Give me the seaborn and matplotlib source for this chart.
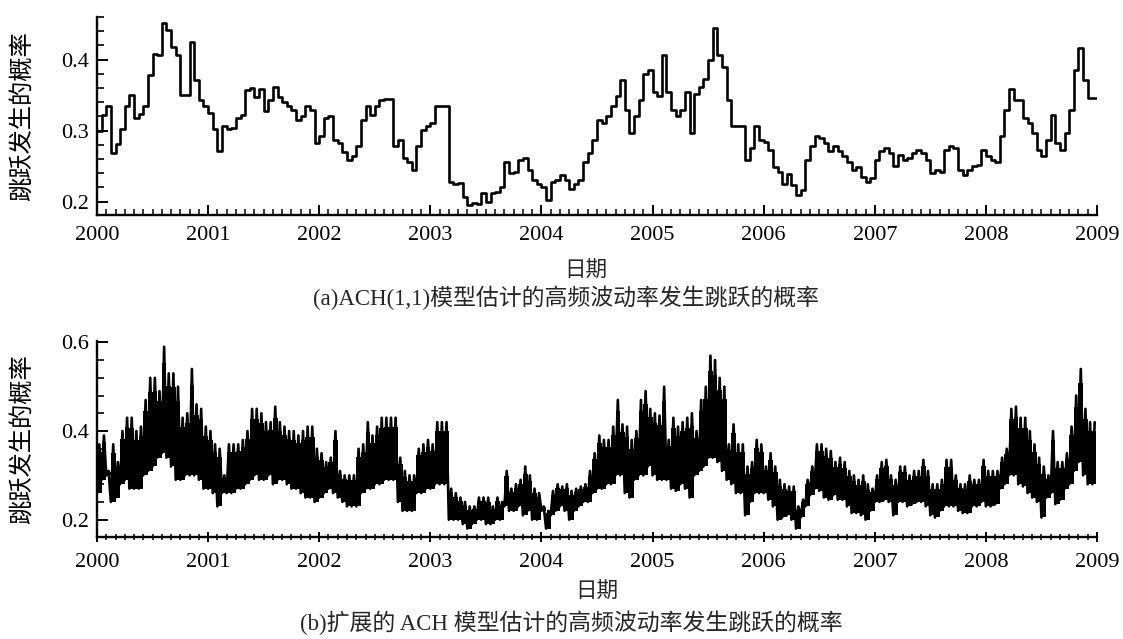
import matplotlib
matplotlib.use("Agg")
import matplotlib.pyplot as plt
from matplotlib.ticker import MultipleLocator, FixedLocator, FormatStrFormatter
import pandas as pd
import seaborn as sns

# Sample years; each year is split into 24 half-month periods
years = list(range(2000, 2009))
periods_per_year = 24

# (a) ACH(1,1): estimated jump probability, one value per half-month
ach_prob = [
    # 2000
    0.300, 0.322, 0.334, 0.268, 0.281, 0.302, 0.334, 0.350, 0.317, 0.324, 0.334, 0.378,
    0.408, 0.406, 0.452, 0.441, 0.418, 0.406, 0.350, 0.350, 0.425, 0.371, 0.343, 0.334,
    # 2001
    0.325, 0.302, 0.271, 0.306, 0.302, 0.304, 0.317, 0.322, 0.357, 0.360, 0.347, 0.359,
    0.328, 0.343, 0.361, 0.347, 0.340, 0.334, 0.329, 0.315, 0.320, 0.334, 0.329, 0.282,
    # 2002
    0.292, 0.317, 0.320, 0.287, 0.282, 0.270, 0.259, 0.264, 0.278, 0.315, 0.334, 0.322,
    0.334, 0.343, 0.345, 0.345, 0.278, 0.287, 0.262, 0.255, 0.245, 0.278, 0.301, 0.306,
    # 2003
    0.310, 0.334, 0.335, 0.335, 0.228, 0.224, 0.226, 0.207, 0.195, 0.198, 0.196, 0.212,
    0.200, 0.212, 0.214, 0.221, 0.255, 0.240, 0.242, 0.259, 0.262, 0.245, 0.231, 0.224,
    # 2004
    0.221, 0.202, 0.228, 0.231, 0.238, 0.231, 0.217, 0.224, 0.231, 0.255, 0.269, 0.287,
    0.315, 0.310, 0.320, 0.334, 0.348, 0.371, 0.329, 0.296, 0.320, 0.343, 0.380, 0.385,
    # 2005
    0.354, 0.348, 0.406, 0.354, 0.329, 0.320, 0.329, 0.354, 0.296, 0.352, 0.362, 0.373,
    0.399, 0.444, 0.406, 0.390, 0.343, 0.306, 0.306, 0.306, 0.259, 0.276, 0.306, 0.287,
    # 2006
    0.284, 0.272, 0.249, 0.242, 0.225, 0.239, 0.223, 0.209, 0.216, 0.259, 0.278, 0.292,
    0.290, 0.282, 0.271, 0.278, 0.271, 0.264, 0.255, 0.245, 0.249, 0.235, 0.228, 0.233,
    # 2007
    0.259, 0.271, 0.276, 0.268, 0.250, 0.266, 0.259, 0.261, 0.268, 0.273, 0.268, 0.259,
    0.240, 0.245, 0.242, 0.273, 0.278, 0.276, 0.245, 0.238, 0.245, 0.250, 0.252, 0.273,
    # 2008
    0.264, 0.259, 0.255, 0.292, 0.329, 0.358, 0.343, 0.343, 0.317, 0.310, 0.296, 0.273,
    0.264, 0.287, 0.322, 0.282, 0.273, 0.296, 0.329, 0.385, 0.416, 0.371, 0.346, 0.346,
]

# (b) extended ACH: daily probability swings between these half-month extremes
ext_high = [
    # 2000
    0.37, 0.39, 0.31, 0.37, 0.33, 0.40, 0.43, 0.43, 0.40, 0.41, 0.47, 0.52,
    0.52, 0.49, 0.59, 0.53, 0.53, 0.50, 0.43, 0.44, 0.54, 0.46, 0.45, 0.41,
    # 2001
    0.40, 0.37, 0.36, 0.30, 0.37, 0.37, 0.37, 0.38, 0.40, 0.45, 0.45, 0.44,
    0.42, 0.42, 0.455, 0.42, 0.41, 0.40, 0.40, 0.39, 0.40, 0.41, 0.41, 0.36,
    # 2002
    0.35, 0.33, 0.34, 0.40, 0.31, 0.30, 0.30, 0.30, 0.36, 0.37, 0.42, 0.39,
    0.41, 0.43, 0.43, 0.43, 0.43, 0.34, 0.31, 0.30, 0.30, 0.36, 0.37, 0.38,
    # 2003
    0.37, 0.42, 0.42, 0.42, 0.27, 0.26, 0.25, 0.24, 0.23, 0.23, 0.25, 0.25,
    0.25, 0.23, 0.25, 0.24, 0.31, 0.27, 0.28, 0.29, 0.32, 0.30, 0.27, 0.26,
    # 2004
    0.23, 0.22, 0.265, 0.28, 0.275, 0.28, 0.265, 0.27, 0.275, 0.28, 0.31, 0.35,
    0.39, 0.38, 0.38, 0.41, 0.47, 0.415, 0.41, 0.38, 0.40, 0.47, 0.49, 0.45,
    # 2005
    0.44, 0.435, 0.50, 0.38, 0.43, 0.41, 0.42, 0.43, 0.44, 0.40, 0.47, 0.50,
    0.57, 0.56, 0.52, 0.50, 0.37, 0.415, 0.37, 0.37, 0.32, 0.33, 0.38, 0.37,
    # 2006
    0.32, 0.35, 0.32, 0.29, 0.28, 0.275, 0.275, 0.23, 0.245, 0.29, 0.32, 0.37,
    0.37, 0.36, 0.355, 0.33, 0.34, 0.33, 0.31, 0.30, 0.29, 0.30, 0.28, 0.27,
    # 2007
    0.30, 0.33, 0.335, 0.30, 0.29, 0.32, 0.32, 0.30, 0.31, 0.31, 0.335, 0.31,
    0.28, 0.28, 0.29, 0.335, 0.335, 0.30, 0.28, 0.28, 0.30, 0.29, 0.29, 0.335,
    # 2008
    0.31, 0.31, 0.31, 0.34, 0.36, 0.45, 0.455, 0.43, 0.43, 0.40, 0.37, 0.34,
    0.32, 0.30, 0.40, 0.33, 0.33, 0.35, 0.41, 0.48, 0.54, 0.45, 0.42, 0.42,
]
ext_low = [
    # 2000
    0.26, 0.29, 0.30, 0.24, 0.25, 0.28, 0.29, 0.27, 0.27, 0.27, 0.30, 0.31,
    0.32, 0.34, 0.35, 0.34, 0.32, 0.29, 0.29, 0.30, 0.30, 0.30, 0.29, 0.27,
    # 2001
    0.27, 0.26, 0.23, 0.26, 0.26, 0.26, 0.27, 0.27, 0.28, 0.29, 0.30, 0.29,
    0.29, 0.30, 0.28, 0.29, 0.29, 0.28, 0.27, 0.27, 0.26, 0.25, 0.25, 0.24,
    # 2002
    0.25, 0.26, 0.27, 0.26, 0.25, 0.24, 0.23, 0.23, 0.23, 0.26, 0.27, 0.27,
    0.28, 0.28, 0.29, 0.29, 0.29, 0.24, 0.22, 0.22, 0.22, 0.26, 0.26, 0.27,
    # 2003
    0.27, 0.28, 0.28, 0.28, 0.20, 0.20, 0.20, 0.19, 0.18, 0.19, 0.20, 0.20,
    0.19, 0.19, 0.20, 0.20, 0.23, 0.22, 0.22, 0.23, 0.21, 0.22, 0.20, 0.20,
    # 2004
    0.22, 0.18, 0.21, 0.22, 0.23, 0.22, 0.20, 0.22, 0.23, 0.24, 0.24, 0.26,
    0.27, 0.27, 0.28, 0.28, 0.30, 0.30, 0.26, 0.25, 0.29, 0.30, 0.30, 0.32,
    # 2005
    0.30, 0.29, 0.29, 0.29, 0.27, 0.265, 0.28, 0.27, 0.25, 0.30, 0.31, 0.32,
    0.34, 0.34, 0.33, 0.31, 0.29, 0.28, 0.26, 0.26, 0.21, 0.24, 0.26, 0.26,
    # 2006
    0.26, 0.245, 0.23, 0.20, 0.205, 0.21, 0.20, 0.18, 0.205, 0.23, 0.255, 0.27,
    0.265, 0.25, 0.245, 0.255, 0.245, 0.245, 0.23, 0.215, 0.215, 0.21, 0.20, 0.22,
    # 2007
    0.24, 0.24, 0.245, 0.24, 0.21, 0.24, 0.24, 0.23, 0.235, 0.24, 0.24, 0.23,
    0.21, 0.205, 0.22, 0.23, 0.23, 0.23, 0.22, 0.215, 0.215, 0.23, 0.23, 0.24,
    # 2008
    0.23, 0.23, 0.235, 0.27, 0.28, 0.30, 0.30, 0.28, 0.275, 0.26, 0.25, 0.24,
    0.205, 0.25, 0.26, 0.235, 0.245, 0.27, 0.28, 0.31, 0.33, 0.30, 0.28, 0.28,
]

year_ticks = list(range(2000, 2010))
ylabel_text = "跳跃发生的概率"
xlabel_text = "日期"
caption_a = "(a)ACH(1,1)模型估计的高频波动率发生跳跃的概率"
caption_b = "(b)扩展的 ACH 模型估计的高频波动率发生跳跃的概率"

# ---------------------------------------------------------------- data frames
period_start = [y + k / periods_per_year for y in years for k in range(periods_per_year)]
end_time = years[-1] + 1 - 0.01

df_a = pd.DataFrame({"date": period_start + [end_time],
                     "prob": ach_prob + [ach_prob[-1]]})

# daily swings: low at the start of each half-month, high at its middle
zz_x, zz_y = [], []
for t, lo, hi in zip(period_start, ext_low, ext_high):
    zz_x += [t, t + 0.5 / periods_per_year]
    zz_y += [lo, hi]
df_b = pd.DataFrame({"date": zz_x, "prob": zz_y})

# ---------------------------------------------------------------- style
sns.set_theme(style="ticks")
plt.rcParams["font.family"] = ["Liberation Serif", "Noto Sans CJK SC"]
plt.rcParams["axes.unicode_minus"] = False

fig = plt.figure(figsize=(11.23, 6.39), dpi=100)
fig.patch.set_facecolor("white")

W, H = 1123, 639
def axes_rect(x0, x1, y_top, y_bot):
    return [x0 / W, 1 - y_bot / H, (x1 - x0) / W, (y_bot - y_top) / H]

ax_a = fig.add_axes(axes_rect(97, 1097, 17, 215))
ax_b = fig.add_axes(axes_rect(97, 1097, 341, 537))

sns.lineplot(data=df_a, x="date", y="prob", ax=ax_a, color="black",
             linewidth=1.9, drawstyle="steps-post", estimator=None, sort=False)

# dense band between the half-month extremes, with the daily swings on top
band_x = period_start + [end_time]
band_lo = ext_low + [ext_low[-1]]
band_hi = ext_high + [ext_high[-1]]
band_top = [l + 0.85 * (h - l) for l, h in zip(band_lo, band_hi)]
ax_b.fill_between(band_x, band_lo, band_top, step="post", color="black", linewidth=0)
sns.lineplot(data=df_b, x="date", y="prob", ax=ax_b, color="black",
             linewidth=1.9, estimator=None, sort=False)

ax_a.set_ylim(0.181, 0.460)
ax_b.set_ylim(0.161, 0.603)
ax_a.yaxis.set_major_locator(FixedLocator([0.2, 0.3, 0.4]))
ax_a.yaxis.set_minor_locator(MultipleLocator(0.02))
ax_b.yaxis.set_major_locator(FixedLocator([0.2, 0.4, 0.6]))
ax_b.yaxis.set_minor_locator(MultipleLocator(0.04))

for ax, xdir in ((ax_a, "in"), (ax_b, "inout")):
    ax.set_xlim(2000, 2009)
    ax.xaxis.set_major_locator(FixedLocator(year_ticks))
    ax.xaxis.set_minor_locator(MultipleLocator(1 / 12))
    ax.xaxis.set_major_formatter(FormatStrFormatter("%d"))
    ax.yaxis.set_major_formatter(FormatStrFormatter("%.1f"))
    ax.set_facecolor("white")
    ax.grid(False)
    for side in ("top", "right"):
        ax.spines[side].set_visible(False)
    for side in ("left", "bottom"):
        ax.spines[side].set_color("black")
        ax.spines[side].set_linewidth(1.7)
    ax.tick_params(axis="y", which="major", direction="in", length=8, width=1.4,
                   color="black", labelsize=16, pad=6, labelcolor="black")
    ax.tick_params(axis="y", which="minor", direction="in", length=5, width=1.2,
                   color="black")
    ax.tick_params(axis="x", which="major", direction=xdir, length=7, width=1.4,
                   color="black", labelsize=16, pad=8, labelcolor="black")
    ax.tick_params(axis="x", which="minor", direction=xdir, length=4, width=1.1,
                   color="black")
    ax.set_xlabel("")
    ax.set_ylabel(ylabel_text, fontsize=17.5, color="black",
                  family=["Noto Sans CJK SC", "DejaVu Sans"])
    ax.yaxis.set_label_coords(-0.061, 0.5)

cjk = ["Liberation Serif", "Noto Sans CJK SC"]
fig.text(586 / W, 1 - 272 / H, xlabel_text, ha="center", va="center",
         fontsize=15.5, family=cjk)
fig.text(566 / W, 1 - 298 / H, caption_a, ha="center", va="center",
         fontsize=16.5, family=cjk)
fig.text(597 / W, 1 - 593 / H, xlabel_text, ha="center", va="center",
         fontsize=15.5, family=cjk)
fig.text(571 / W, 1 - 623 / H, caption_b, ha="center", va="center",
         fontsize=16.5, family=cjk)

fig.savefig("out.png", dpi=100, facecolor="white")
